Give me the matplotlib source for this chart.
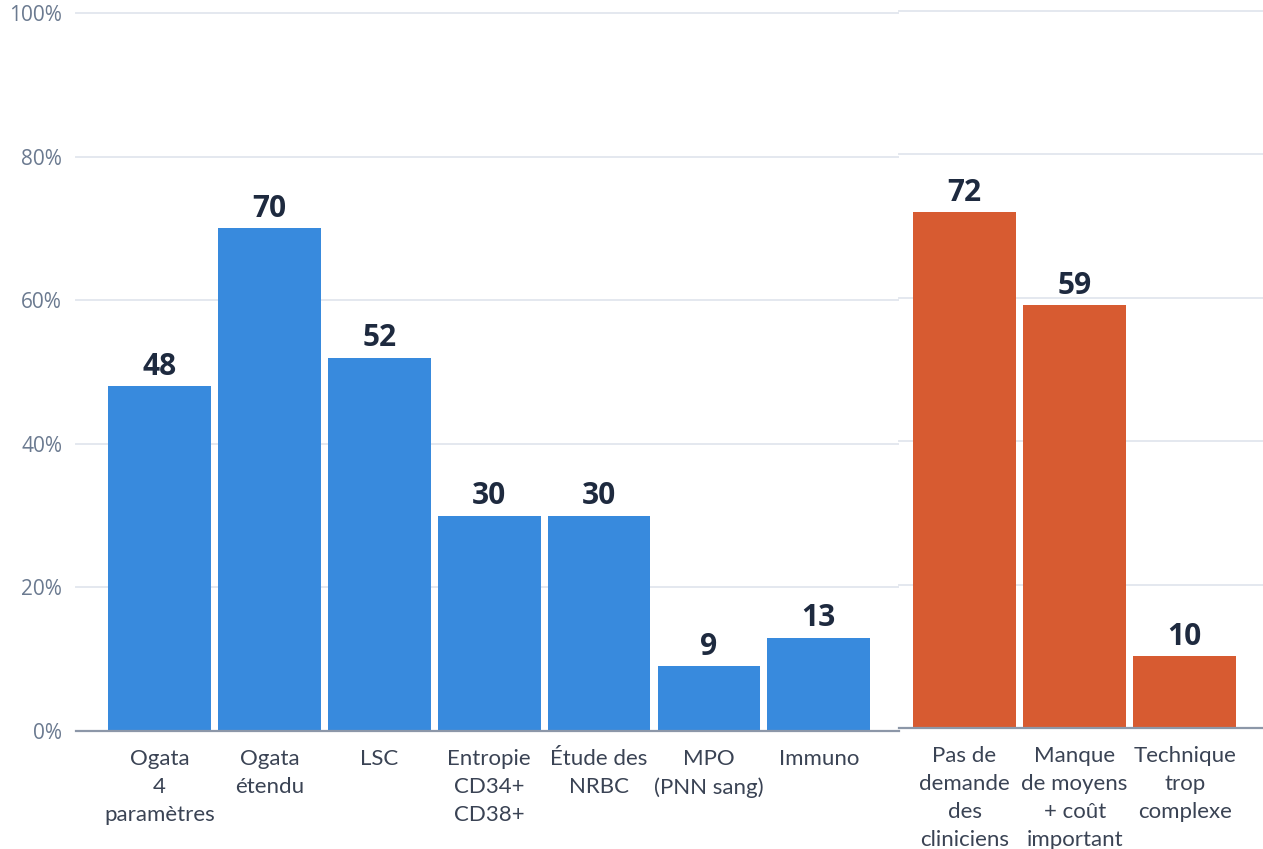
import matplotlib
matplotlib.use("Agg")
import matplotlib.pyplot as plt
from matplotlib.ticker import FuncFormatter

# Techniques in use (left panel)
tech_labels = ["Ogata\n4\nparamètres", "Ogata\nétendu", "LSC", "Entropie\nCD34+\nCD38+",
               "Étude des\nNRBC", "MPO\n(PNN sang)", "Immuno"]
tech_values = [48, 70, 52, 30, 30, 9, 13]

# Reasons for not using them (right panel)
reason_labels = ["Pas de\ndemande\ndes\ncliniciens", "Manque\nde moyens\n+ coût\nimportant",
                 "Technique\ntrop\ncomplexe"]
reason_values = [72, 59, 10]

y_ticks = [0, 20, 40, 60, 80, 100]

BLUE = "#388ADD"
ORANGE = "#D75B31"
GRID = "#E4E8EF"
AXIS = "#8C97A8"
TICK_TXT = "#6B7A90"
CAT_TXT = "#3A4354"
VAL_TXT = "#1E2A3F"

W, H = 1263, 849
fig = plt.figure(figsize=(W / 100, H / 100), dpi=100)


def frac(x0, x1, y_top, y_bot):
    return [x0 / W, 1 - y_bot / H, (x1 - x0) / W, (y_bot - y_top) / H]


ax1 = fig.add_axes(frac(76, 899, 13, 731))
ax2 = fig.add_axes(frac(899, 1263, 11, 728))


def style(ax, labels, values, color, xlim, show_y):
    x = list(range(len(values)))
    bars = ax.bar(x, values, width=0.935, color=color, zorder=3)
    ax.set_xlim(*xlim)
    ax.set_ylim(0, 100)
    ax.set_yticks(y_ticks)
    for s in ["top", "right", "left"]:
        ax.spines[s].set_visible(False)
    ax.spines["bottom"].set_color(AXIS)
    ax.spines["bottom"].set_linewidth(1.6)
    ax.spines["bottom"].set_zorder(4)
    ax.grid(axis="y", color=GRID, linewidth=1.4, zorder=0)
    for gl in ax.get_ygridlines():
        gl.set_clip_on(False)
    ax.set_axisbelow(True)
    ax.set_xticks(x)
    ax.set_xticklabels(labels, fontsize=16, color=CAT_TXT, family="Lato",
                       linespacing=1.5)
    ax.tick_params(axis="x", length=0, pad=13)
    if show_y:
        ax.yaxis.set_major_formatter(FuncFormatter(lambda v, p: f"{v:.0f}%"))
        ax.tick_params(axis="y", length=0, pad=10, labelsize=15, labelcolor=TICK_TXT)
        for t in ax.get_yticklabels():
            t.set_family("Open Sans")
    else:
        ax.tick_params(axis="y", length=0, labelleft=False)
    for b, v in zip(bars, values):
        ax.annotate(f"{v}", (b.get_x() + b.get_width() / 2, v),
                    xytext=(0, 3), textcoords="offset points",
                    ha="center", va="bottom", fontsize=21.5, fontweight="bold",
                    color=VAL_TXT, family="Open Sans")


style(ax1, tech_labels, tech_values, BLUE, (-0.76, 6.73), True)
style(ax2, reason_labels, reason_values, ORANGE, (-0.595, 2.71), False)

fig.savefig("out.png", dpi=100, facecolor="white")
